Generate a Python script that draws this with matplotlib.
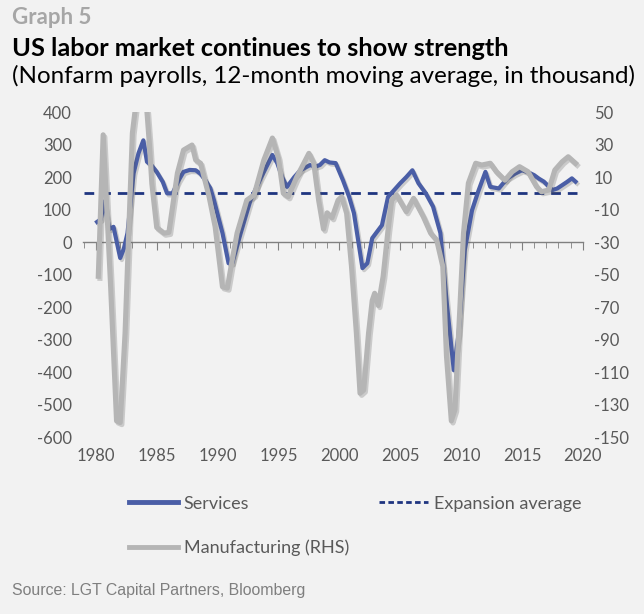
import numpy as np
import matplotlib
matplotlib.use("Agg")
import matplotlib.pyplot as plt
import matplotlib.patheffects as pe
from matplotlib.lines import Line2D

# services, 12m MA nonfarm payrolls (thousand), LHS
svc_year = [1980.1, 1980.4, 1980.7, 1981.1, 1981.45, 1982.0, 1982.3, 1982.6, 1983.1, 1983.5,
            1983.9, 1984.2, 1984.6, 1985.0, 1985.5, 1985.85, 1986.3, 1986.8, 1987.2, 1987.7,
            1988.2, 1988.6, 1989.0, 1989.4, 1989.7, 1990.4, 1990.9, 1991.2, 1991.9, 1992.7,
            1993.6, 1994.5, 1994.9, 1995.3, 1995.7, 1996.3, 1996.8, 1997.6, 1998.0, 1998.4,
            1998.8, 1999.2, 1999.7, 2000.3, 2000.8, 2001.2, 2001.9, 2002.3, 2002.7, 2003.5,
            2004.0, 2005.0, 2005.5, 2006.0, 2006.5, 2007.1, 2007.7, 2008.3, 2008.8, 2009.4,
            2009.8, 2010.3, 2010.9, 2011.4, 2012.0, 2012.4, 2013.1, 2013.8, 2014.4, 2015.0,
            2015.5, 2016.0, 2016.4, 2016.8, 2017.5, 2017.9, 2018.3, 2018.7, 2019.1, 2019.4]
svc_val = [62, 70, 125, 40, 47, -49, -20, 28, 212, 273,
           313, 247, 235, 216, 185, 150, 150, 190, 216, 222,
           221, 210, 190, 166, 129, 28, -65, -65, 28, 129,
           201, 268, 243, 200, 170, 200, 221, 237, 232, 237,
           252, 245, 243, 190, 140, 89, -80, -65, 12, 52,
           139, 181, 200, 221, 181, 150, 109, 28, -178, -394,
           -281, -25, 98, 155, 216, 170, 165, 196, 210, 221,
           215, 206, 195, 186, 160, 165, 175, 185, 196, 186]

# manufacturing, 12m MA (thousand), RHS
mfg_year = [1980.2, 1980.6, 1981.2, 1981.7, 1982.0, 1982.4, 1982.7, 1983.0, 1983.5, 1983.9,
            1984.2, 1984.4, 1984.6, 1985.0, 1985.6, 1986.0, 1986.7, 1987.2, 1987.9, 1988.2,
            1988.6, 1989.3, 1989.8, 1990.4, 1990.8, 1991.2, 1991.6, 1992.4, 1993.0, 1993.8,
            1994.5, 1995.0, 1995.4, 1995.8, 1996.5, 1997.5, 1997.9, 1998.3, 1998.7, 1999.0,
            1999.4, 1999.9, 2000.2, 2000.6, 2001.0, 2001.4, 2001.7, 2002.0, 2002.4, 2002.7,
            2002.9, 2003.2, 2003.6, 2004.0, 2004.3, 2004.7, 2005.5, 2006.1, 2006.9, 2007.5,
            2008.0, 2008.5, 2008.8, 2009.2, 2009.5, 2009.8, 2010.2, 2010.6, 2011.2, 2011.7,
            2012.4, 2012.9, 2013.6, 2014.2, 2014.8, 2015.5, 2016.2, 2016.6, 2017.2, 2017.7,
            2018.3, 2018.8, 2019.4]
mfg_val = [-51, 36, -55, -140, -141, -86, -24, 37, 68, 65,
           50, 30, 6, -21, -24.5, -24, 12.5, 26.6, 29.7, 20.5,
           18.5, -2, -20.6, -57.5, -58.3, -41, -24.5, -4.2, -1, 20.5,
           34, 21.5, 0, -2.1, 10, 24.6, 18.5, -4.2, -22, -12,
           -15, -4.2, -2.1, -12.3, -45, -86, -123, -121, -86, -66,
           -61.5, -69, -51, -22.6, -4.2, -1, -11.3, -3.1, -14.4, -24.5,
           -28.8, -45, -100, -140, -133, -86, -24.5, 6.3, 18.5, 17.4,
           18.5, 13.3, 8.1, 13.3, 16.4, 13.3, 4.1, 1, 2, 14.3,
           19.4, 22.5, 18.5]

exp_avg = 152
exp_span = [1979.05, 2019.5]

left_ticks = list(range(-600, 401, 100))
right_ticks = list(range(-150, 51, 20))
year_ticks = list(range(1980, 2021, 5))

bg = "#f2f2f2"
blue = "#4a5ea6"
navy = "#1f3580"
grey = "#b5b5b5"
txt = "#595959"

plt.rcParams["font.family"] = ["Lato", "DejaVu Sans"]
plt.rcParams["axes.unicode_minus"] = False

fig = plt.figure(figsize=(6.44, 6.14), dpi=100, facecolor=bg)
ax = fig.add_axes([0.129, 0.288, 0.776, 0.5295])
ax.set_facecolor(bg)
ax2 = ax.twinx()

shadow = [pe.SimpleLineShadow(offset=(1.2, -1.5), alpha=0.25, shadow_color="#555555"), pe.Normal()]

ax.plot(exp_span, [exp_avg, exp_avg], color=navy, lw=2, ls=(0, (3.5, 2.5)), zorder=2)
ax.plot(svc_year, svc_val, color=blue, lw=3, solid_joinstyle="round", path_effects=shadow, zorder=3)
ax2.plot(mfg_year, mfg_val, color=grey, lw=3.7, solid_joinstyle="round", path_effects=shadow)

ax.set_xlim(1978.95, 2020.0)
ax.set_ylim(-600, 400)
ax2.set_ylim(-150, 50)
ax.set_yticks(left_ticks)
ax2.set_yticks(right_ticks)

for a in (ax, ax2):
    for s in ("top", "left", "right", "bottom"):
        a.spines[s].set_visible(False)
    a.tick_params(axis="y", length=0, labelsize=12, labelcolor=txt, pad=8)

# zero line with yearly ticks
ax.spines["bottom"].set_visible(True)
ax.spines["bottom"].set_position(("data", 0))
ax.spines["bottom"].set_color("#808080")
ax.spines["bottom"].set_linewidth(1)
ax.set_xticks(year_ticks)
ax.set_xticks(range(1979, 2021), minor=True)
ax.tick_params(axis="x", which="major", length=6, color="#808080", labelbottom=False)
ax.tick_params(axis="x", which="minor", length=4, color="#808080")

sec = ax.secondary_xaxis(0.0)
sec.set_xticks(year_ticks)
sec.spines["bottom"].set_visible(False)
sec.tick_params(axis="x", length=0, labelsize=12, labelcolor=txt, pad=8)

# legends
h_svc = Line2D([], [], color=blue, lw=3.5)
h_mfg = Line2D([], [], color=grey, lw=3.5)
h_exp = Line2D([], [], color=navy, lw=2, ls=(0, (2, 1.2)))
fig.legend([h_svc, h_mfg], ["Services", "Manufacturing (RHS)"], loc="upper left",
           bbox_to_anchor=(0.175, 0.219), frameon=False, fontsize=13, handlelength=2.7,
           handletextpad=0.33, labelspacing=1.55, labelcolor=txt)
fig.legend([h_exp], ["Expansion average"], loc="upper left",
           bbox_to_anchor=(0.564, 0.219), frameon=False, fontsize=13, handlelength=2.7,
           handletextpad=0.33, labelcolor=txt)

fig.text(0.018, 0.972, "Graph 5", fontsize=16, fontweight="bold", color="#a6a6a6", va="center")
fig.text(0.018, 0.921, "US labor market continues to show strength", fontsize=18.3,
         fontweight="bold", color="black", va="center")
fig.text(0.018, 0.876, "(Nonfarm payrolls, 12-month moving average, in thousand)", fontsize=17.4,
         color="black", va="center")
fig.text(0.018, 0.039, "Source: LGT Capital Partners, Bloomberg", fontsize=11.4,
         color="#7f7f7f", va="center", family=["Liberation Sans", "DejaVu Sans"])

fig.savefig("out.png", dpi=100, facecolor=bg)
